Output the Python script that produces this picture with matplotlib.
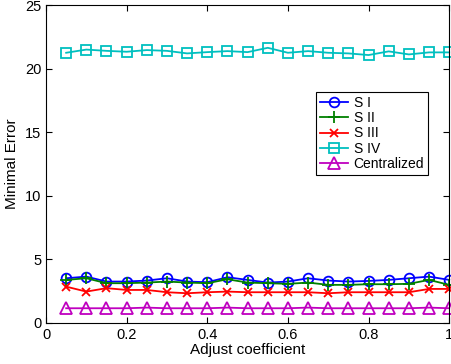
import numpy as np
import matplotlib.pyplot as plt

plt.rcParams['font.family'] = ['Liberation Sans', 'DejaVu Sans']

# Adjust coefficient values
coef = [0.05, 0.10, 0.15, 0.20, 0.25, 0.30, 0.35, 0.40, 0.45, 0.50,
        0.55, 0.60, 0.65, 0.70, 0.75, 0.80, 0.85, 0.90, 0.95, 1.00]

# Minimal error for each scheme
s1 = [3.51, 3.64, 3.25, 3.25, 3.33, 3.51, 3.25, 3.20, 3.59, 3.38,
      3.17, 3.25, 3.51, 3.33, 3.25, 3.30, 3.38, 3.51, 3.64, 3.38]
s2 = [3.38, 3.51, 3.12, 3.12, 3.17, 3.25, 3.17, 3.12, 3.43, 3.17,
      3.12, 3.07, 3.17, 2.99, 2.99, 3.04, 3.04, 3.07, 3.38, 2.99]
s3 = [2.85, 2.46, 2.73, 2.59, 2.59, 2.41, 2.33, 2.41, 2.46, 2.41,
      2.41, 2.41, 2.41, 2.33, 2.41, 2.41, 2.41, 2.41, 2.67, 2.67]
s4 = [21.25, 21.50, 21.40, 21.33, 21.46, 21.40, 21.20, 21.30, 21.38, 21.30,
      21.64, 21.25, 21.38, 21.25, 21.20, 21.07, 21.36, 21.12, 21.28, 21.28]
central = [1.15, 1.15, 1.15, 1.15, 1.20, 1.15, 1.15, 1.15, 1.20, 1.15,
           1.15, 1.15, 1.20, 1.15, 1.15, 1.15, 1.15, 1.15, 1.20, 1.15]

fig = plt.figure(figsize=(4.51, 3.64), dpi=100)
ax = fig.add_axes([0.102, 0.113, 0.894, 0.873])

ms = 7
ax.plot(coef, s1, '-o', color=(0, 0, 1), mfc='none', ms=ms, lw=1.3, mew=1.3, label='S I', clip_on=False)
ax.plot(coef, s2, '-+', color=(0, 0.5, 0), ms=ms + 2, lw=1.3, mew=1.3, label='S II', clip_on=False)
ax.plot(coef, s3, '-x', color=(1, 0, 0), ms=ms - 1, lw=1.3, mew=1.3, label='S III', clip_on=False)
ax.plot(coef, s4, '-s', color=(0, 0.75, 0.75), mfc='none', ms=ms, lw=1.3, mew=1.3, label='S IV', clip_on=False)
ax.plot(coef, central, '-^', color=(0.75, 0, 0.75), mfc='none', ms=ms + 1, lw=1.3, mew=1.3, label='Centralized', clip_on=False)

ax.set_xlim(0, 1)
ax.set_ylim(0, 25)
ax.set_xticks([0, 0.2, 0.4, 0.6, 0.8, 1])
ax.set_xticklabels(['0', '0.2', '0.4', '0.6', '0.8', '1'])
ax.set_yticks([0, 5, 10, 15, 20, 25])
ax.tick_params(direction='in', top=True, right=True, labelsize=10.5, length=4)
ax.set_xlabel('Adjust coefficient', fontsize=11, labelpad=1)
ax.set_ylabel('Minimal Error', fontsize=11, labelpad=4)

leg = ax.legend(loc='upper left', bbox_to_anchor=(0.67, 0.728), fontsize=10,
                fancybox=False, edgecolor='black', framealpha=1,
                handlelength=2.0, handletextpad=0.4, labelspacing=0.1,
                borderpad=0.3, borderaxespad=0)
leg.get_frame().set_linewidth(0.8)

fig.savefig('out.png', dpi=100)
